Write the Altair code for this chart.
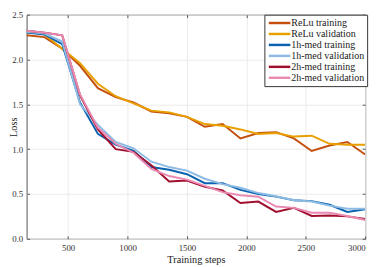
import altair as alt
import pandas as pd

steps = [150, 300, 450, 600, 750, 900, 1050, 1200, 1350, 1500,
         1650, 1800, 1950, 2100, 2250, 2400, 2550, 2700, 2850, 3000]

relu_train = [2.27, 2.25, 2.12, 1.93, 1.68, 1.58, 1.52, 1.42, 1.40, 1.36,
              1.25, 1.28, 1.12, 1.18, 1.19, 1.12, 0.98, 1.04, 1.08, 0.94]
relu_val = [2.31, 2.28, 2.12, 1.96, 1.73, 1.59, 1.51, 1.43, 1.41, 1.36,
            1.28, 1.26, 1.22, 1.17, 1.18, 1.14, 1.15, 1.06, 1.05, 1.05]
h1_train = [2.30, 2.28, 2.17, 1.52, 1.17, 1.05, 0.98, 0.80, 0.77, 0.72,
            0.62, 0.62, 0.545, 0.50, 0.47, 0.43, 0.42, 0.38, 0.30, 0.33]
h1_val = [2.31, 2.29, 2.20, 1.50, 1.27, 1.08, 1.01, 0.86, 0.80, 0.76,
          0.67, 0.61, 0.57, 0.51, 0.475, 0.43, 0.415, 0.37, 0.335, 0.335]
h2_train = [2.32, 2.30, 2.27, 1.60, 1.22, 1.00, 0.97, 0.82, 0.64, 0.65,
            0.58, 0.54, 0.40, 0.415, 0.30, 0.345, 0.255, 0.26, 0.25, 0.22]
h2_val = [2.32, 2.30, 2.27, 1.61, 1.24, 1.06, 0.96, 0.78, 0.70, 0.66,
          0.59, 0.52, 0.485, 0.47, 0.36, 0.345, 0.29, 0.29, 0.255, 0.21]

series_names = ["ReLu training", "ReLu validation", "1h-med training",
                "1h-med validation", "2h-med training", "2h-med validation"]
series_values = [relu_train, relu_val, h1_train, h1_val, h2_train, h2_val]
series_colors = ["#C4500F", "#E8A000", "#0A62B0", "#8DBBE3", "#A0102E", "#EA8AB2"]

x_ticks = [500, 1000, 1500, 2000, 2500, 3000]
y_ticks = [0, 0.5, 1, 1.5, 2, 2.5]

rows = []
for order, (name, vals) in enumerate(zip(series_names, series_values)):
    for s, v in zip(steps, vals):
        rows.append({"step": s, "loss": v, "series": name, "order": order})
df = pd.DataFrame(rows)

FONT = "Liberation Serif"
x_scale = alt.Scale(domain=[150, 3000], nice=False, zero=False)
y_scale = alt.Scale(domain=[0, 2.5], nice=False)

lines = alt.Chart(df).mark_line(strokeWidth=2, clip=True).encode(
    x=alt.X("step:Q", scale=x_scale,
            axis=alt.Axis(values=x_ticks, title="Training steps", grid=True,
                          format="d", labelFontSize=9, titleFontSize=10.5,
                          titlePadding=2, labelPadding=5, tickSize=3,
                          offset=-3, domain=False)),
    y=alt.Y("loss:Q", scale=y_scale,
            axis=alt.Axis(values=y_ticks, title="Loss", grid=True,
                          labelFontSize=9, titleFontSize=10.5,
                          labelPadding=4, tickSize=3,
                          titleX=-13, titleBaseline="alphabetic",
                          offset=-3, domain=False)),
    color=alt.Color("series:N",
                    scale=alt.Scale(domain=series_names, range=series_colors),
                    legend=alt.Legend(title=None, orient="none",
                                      legendX=243, legendY=0,
                                      symbolType="M-1,0L4.5,0",
                                      symbolSize=64, symbolStrokeWidth=2.5,
                                      labelFontSize=10.2, rowPadding=0.2,
                                      labelOffset=13.5,
                                      fillColor="white", strokeColor="#333333",
                                      padding=3, labelFont=FONT)),
    order=alt.Order("order:Q"),
    detail="series:N",
)

box_ticks = alt.Chart(df).mark_line(strokeOpacity=0).encode(
    x=alt.X("step:Q", scale=x_scale,
            axis=alt.Axis(orient="top", values=x_ticks, title=None, labels=False,
                          grid=False, domain=False, tickSize=3, offset=-3)),
    y=alt.Y("loss:Q", scale=y_scale,
            axis=alt.Axis(orient="right", values=y_ticks, title=None, labels=False,
                          grid=False, domain=False, tickSize=3, offset=-3)),
    detail="series:N",
)

chart = alt.layer(lines, box_ticks).resolve_axis(
    x="independent", y="independent"
).properties(
    width=346,
    height=229,
    autosize=alt.AutoSizeParams(type="none"),
    padding={"left": 19, "top": 4, "right": 9, "bottom": 26},
).configure_axis(
    labelFont=FONT, titleFont=FONT, labelColor="#333333", titleColor="#222222",
    domainColor="#555555", tickColor="#555555", gridColor="#EBEBEB",
    titleFontWeight="normal",
).configure_view(
    stroke="#555555", strokeWidth=1,
).configure_legend(
    labelColor="#222222", strokeWidth=1,
)

chart.save("out.html", embed_options={"renderer": "svg", "actions": False})
